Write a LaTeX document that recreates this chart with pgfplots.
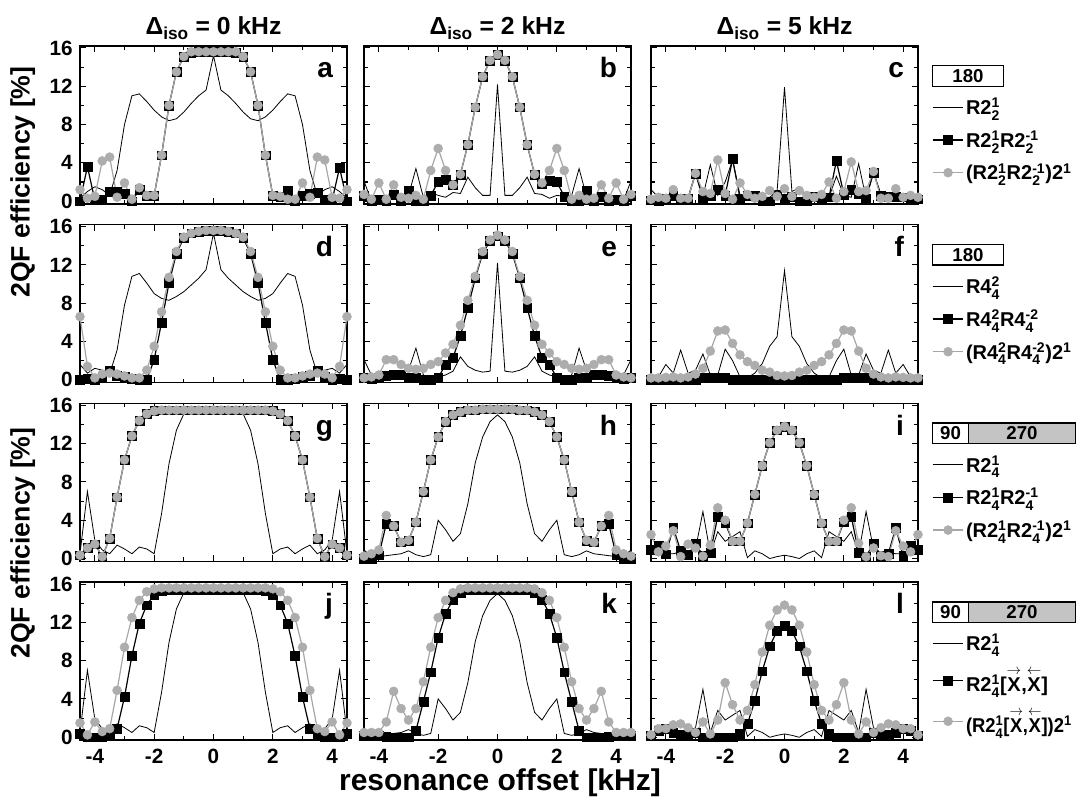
\documentclass[border=0pt]{standalone}
\usepackage{fontspec}
\setmainfont{Liberation Sans}
\usepackage{amsmath}
\usepackage{graphicx}
\usepackage{pgfplots}
\usepackage{pgfplotstable}
\pgfplotsset{compat=1.18}
\definecolor{ptgray}{HTML}{ADADAD}
\definecolor{lngray}{HTML}{A6A6A6}
\definecolor{boxgray}{HTML}{C4C4C4}

\newcommand{\su}[2]{\ensuremath{{}_{\text{#1}}^{\text{#2}}}}
\newcommand{\ax}[1]{\ensuremath{\overset{#1}{\text{X}}}}
\newcommand{\tickfont}{\fontsize{15.5}{15.5}\selectfont\bfseries}
\newcommand{\legfont}{\fontsize{15}{15}\selectfont\bfseries}

% one table per panel: offset [kHz], R (thin line), squares, circles
\pgfplotstableread{
x L S C
-4.5 0.3 0.0 1.2
-4.25 1.0 3.6 0.3
-4 1.5 0.1 0.5
-3.75 1.2 0.2 4.2
-3.5 0.6 1.0 4.6
-3.25 3.2 1.0 0.4
-3 8.0 0.8 1.9
-2.75 11.0 0.0 0.2
-2.5 11.2 1.2 1.4
-2.25 10.4 0.6 0.6
-2 9.5 0.6 0.6
-1.75 8.8 4.8 4.8
-1.5 8.4 10.0 10.0
-1.25 8.6 13.5 13.5
-1 9.3 15.1 15.1
-0.75 10.2 15.5 15.6
-0.5 11.0 15.6 15.6
-0.25 11.6 15.6 15.6
0 15.2 15.6 15.6
0.25 11.6 15.6 15.6
0.5 11.0 15.6 15.6
0.75 10.2 15.5 15.6
1 9.3 15.1 15.1
1.25 8.6 13.5 13.5
1.5 8.4 10.0 10.0
1.75 8.8 4.8 4.8
2 9.5 0.6 0.6
2.25 10.4 0.5 0.5
2.5 11.2 1.1 0.2
2.75 11.0 0.0 0.2
3 8.0 0.6 1.9
3.25 3.2 0.8 0.4
3.5 0.6 0.9 4.6
3.75 1.2 0.2 4.3
4 1.5 0.1 0.4
4.25 1.0 3.5 0.3
4.5 0.3 0.0 1.2
}\dA
\pgfplotstableread{
x L S C
-4.5 2.1 0.6 0.7
-4.25 0.0 0.0 0.2
-4 0.3 0.2 1.9
-3.75 0.2 0.0 0.2
-3.5 0.3 0.7 1.7
-3.25 0.3 0.0 0.4
-3 0.6 1.1 0.3
-2.75 3.4 0.0 0.6
-2.5 0.4 0.0 0.2
-2.25 0.9 0.6 3.2
-2 0.6 2.0 5.5
-1.75 0.4 2.2 3.2
-1.5 0.9 1.7 1.7
-1.25 0.8 2.8 2.8
-1 2.5 5.9 5.9
-0.75 1.4 9.8 9.8
-0.5 0.6 13.0 13.0
-0.25 0.6 14.7 14.7
0 12.2 15.3 15.3
0.25 0.6 14.7 14.7
0.5 0.6 13.0 13.0
0.75 1.4 9.8 9.8
1 2.5 5.9 5.9
1.25 0.8 2.8 2.8
1.5 0.7 1.8 1.9
1.75 0.3 2.1 3.2
2 0.6 2.0 5.5
2.25 0.5 0.5 3.2
2.5 0.6 0.0 0.2
2.75 3.4 0.0 0.6
3 0.5 1.1 0.2
3.25 0.3 0.0 0.3
3.5 0.3 0.5 1.7
3.75 0.2 0.0 0.3
4 0.3 0.2 1.9
4.25 0.1 0.0 0.2
4.5 2.1 0.6 0.7
}\dB
\pgfplotstableread{
x L S C
-4.5 1.2 0.1 0.2
-4.25 0.4 0.0 0.4
-4 0.3 0.3 0.3
-3.75 0.3 0.6 1.2
-3.5 0.3 0.3 0.3
-3.25 0.4 0.3 0.3
-3 2.9 2.9 2.9
-2.75 0.5 0.3 1.0
-2.5 3.8 0.6 0.8
-2.25 0.6 1.2 4.3
-2 2.0 0.6 0.8
-1.75 4.3 4.4 0.2
-1.5 0.6 0.3 1.9
-1.25 0.7 0.6 0.7
-1 0.4 0.6 0.3
-0.75 0.4 0.0 0.5
-0.5 0.4 0.0 1.1
-0.25 1.0 0.7 0.5
0 11.9 0.3 1.3
0.25 1.0 0.5 0.5
0.5 1.4 0.0 1.1
0.75 0.5 0.0 0.6
1 0.5 0.5 0.4
1.25 0.3 0.1 0.7
1.5 0.4 0.4 2.0
1.75 2.6 4.2 0.3
2 0.6 0.7 1.0
2.25 0.4 1.2 4.1
2.5 3.9 0.8 1.0
2.75 0.3 0.3 1.1
3 3.0 3.0 3.1
3.25 0.7 0.6 0.3
3.5 0.7 0.5 0.3
3.75 0.6 0.5 1.3
4 0.7 0.4 0.4
4.25 0.4 0.2 0.6
4.5 0.5 0.2 0.4
}\dC
\pgfplotstableread{
x L S C
-4.5 1.6 0.0 6.6
-4.25 0.7 0.1 1.4
-4 1.2 0.0 0.2
-3.75 1.0 0.3 0.6
-3.5 0.6 1.0 0.7
-3.25 3.1 0.4 0.6
-3 7.8 0.3 0.4
-2.75 10.8 0.1 0.2
-2.5 11.1 0.0 0.2
-2.25 10.1 0.0 1.0
-2 9.0 2.1 3.5
-1.75 8.5 6.0 7.1
-1.5 8.3 10.1 10.7
-1.25 8.7 13.2 13.4
-1 9.2 14.8 14.9
-0.75 9.9 15.3 15.3
-0.5 10.6 15.5 15.5
-0.25 11.5 15.6 15.6
0 15.3 15.6 15.6
0.25 11.5 15.6 15.6
0.5 10.6 15.5 15.5
0.75 9.9 15.3 15.3
1 9.2 14.8 14.9
1.25 8.7 13.2 13.4
1.5 8.3 10.1 10.7
1.75 8.5 6.0 7.1
2 9.0 2.1 3.5
2.25 10.1 0.0 1.0
2.5 11.1 0.0 0.2
2.75 10.8 0.1 0.2
3 7.8 0.3 0.4
3.25 3.1 0.4 0.6
3.5 0.6 1.0 0.7
3.75 1.0 0.3 0.6
4 1.2 0.0 0.2
4.25 0.7 0.1 1.4
4.5 1.6 0.0 6.6
}\dD
\pgfplotstableread{
x L S C
-4.5 2.1 0.2 0.2
-4.25 0.5 0.1 0.3
-4 0.3 0.2 0.5
-3.75 0.5 0.4 2.1
-3.5 0.5 0.5 2.1
-3.25 0.7 0.5 1.6
-3 1.0 0.2 1.2
-2.75 3.3 0.2 1.1
-2.5 0.5 0.0 1.2
-2.25 0.2 0.0 1.6
-2 0.3 0.2 1.9
-1.75 0.5 1.6 2.8
-1.5 0.9 2.3 3.7
-1.25 2.4 4.6 5.7
-1 1.4 7.5 8.3
-0.75 1.0 10.6 10.8
-0.5 0.8 13.2 13.4
-0.25 0.9 14.5 14.6
0 12.2 15.0 15.1
0.25 0.9 14.5 14.6
0.5 0.8 13.2 13.4
0.75 1.0 10.6 10.8
1 1.4 7.5 8.3
1.25 2.4 4.6 5.7
1.5 0.9 2.3 3.7
1.75 0.5 1.6 2.8
2 0.3 0.2 1.9
2.25 0.2 0.0 1.6
2.5 0.5 0.0 1.2
2.75 3.3 0.2 1.1
3 1.0 0.2 1.2
3.25 0.7 0.5 1.6
3.5 0.5 0.5 2.1
3.75 0.5 0.4 2.1
4 0.3 0.2 0.5
4.25 0.5 0.1 0.3
4.5 2.1 0.2 0.2
}\dE
\pgfplotstableread{
x L S C
-4.5 0.6 0.0 0.2
-4.25 0.3 0.0 0.2
-4 1.6 0.0 0.25
-3.75 0.7 0.0 0.3
-3.5 3.1 0.0 0.2
-3.25 0.7 0.0 0.3
-3 1.0 0.0 0.6
-2.75 2.7 0.25 1.2
-2.5 0.5 0.25 3.0
-2.25 0.5 0.25 5.1
-2 3.2 0.25 5.2
-1.75 2.0 0.0 3.8
-1.5 0.3 0.0 2.6
-1.25 0.2 0.0 1.9
-1 0.7 0.0 1.5
-0.75 1.7 0.0 1.0
-0.5 3.5 0.0 0.8
-0.25 4.5 0.0 0.45
0 11.4 0.0 0.4
0.25 4.5 0.0 0.45
0.5 3.5 0.0 0.8
0.75 1.7 0.0 1.0
1 0.7 0.0 1.5
1.25 0.2 0.0 1.9
1.5 0.3 0.0 2.6
1.75 2.0 0.0 3.8
2 3.2 0.25 5.2
2.25 0.5 0.25 5.1
2.5 0.5 0.25 3.0
2.75 2.7 0.25 1.2
3 1.0 0.0 0.6
3.25 0.7 0.0 0.3
3.5 3.1 0.0 0.2
3.75 0.7 0.0 0.3
4 1.6 0.0 0.25
4.25 0.3 0.0 0.2
4.5 0.6 0.0 0.2
}\dF
\pgfplotstableread{
x L S C
-4.5 0.5 0.35 0.35
-4.25 7.0 1.1 1.1
-4 1.9 1.5 1.5
-3.75 0.9 0.2 0.2
-3.5 0.5 2.1 2.1
-3.25 1.4 6.4 6.4
-3 1.0 10.3 10.3
-2.75 0.5 12.8 12.8
-2.5 1.2 14.4 14.4
-2.25 1.0 15.1 15.1
-2 0.5 15.4 15.4
-1.75 4.7 15.5 15.5
-1.5 9.9 15.5 15.5
-1.25 13.4 15.5 15.5
-1 15.1 15.5 15.5
-0.75 15.3 15.5 15.5
-0.5 15.3 15.5 15.5
-0.25 15.3 15.5 15.5
0 15.3 15.5 15.5
0.25 15.3 15.5 15.5
0.5 15.3 15.5 15.5
0.75 15.3 15.5 15.5
1 15.1 15.5 15.5
1.25 13.4 15.5 15.5
1.5 9.9 15.5 15.5
1.75 4.7 15.5 15.5
2 0.5 15.4 15.4
2.25 1.0 15.1 15.1
2.5 1.2 14.4 14.4
2.75 0.5 12.8 12.8
3 1.0 10.3 10.3
3.25 1.4 6.4 6.4
3.5 0.5 2.1 2.1
3.75 0.9 0.2 0.2
4 1.9 1.5 1.5
4.25 7.0 1.1 1.1
4.5 0.5 0.35 0.35
}\dG
\pgfplotstableread{
x L S C
-4.5 0.9 0.0 0.25
-4.25 0.2 0.0 0.5
-4 0.2 0.35 0.9
-3.75 0.3 3.6 4.5
-3.5 0.4 3.4 3.4
-3.25 0.5 1.7 1.7
-3 0.8 1.9 1.9
-2.75 0.4 3.8 3.8
-2.5 0.2 7.0 7.0
-2.25 0.4 10.3 10.3
-2 4.0 12.7 12.7
-1.75 3.0 14.3 14.3
-1.5 1.8 15.0 15.0
-1.25 2.6 15.3 15.3
-1 5.7 15.5 15.5
-0.75 10.0 15.5 15.5
-0.5 12.7 15.6 15.6
-0.25 14.3 15.6 15.6
0 15.0 15.6 15.6
0.25 14.3 15.6 15.6
0.5 12.7 15.6 15.6
0.75 10.0 15.5 15.5
1 5.7 15.5 15.5
1.25 2.6 15.3 15.3
1.5 1.8 15.0 15.0
1.75 3.0 14.3 14.3
2 4.0 12.7 12.7
2.25 0.4 10.3 10.3
2.5 0.2 7.0 7.0
2.75 0.4 3.8 3.8
3 0.8 1.9 1.9
3.25 0.5 1.7 1.7
3.5 0.4 3.4 3.4
3.75 0.3 3.6 4.5
4 0.2 0.35 0.9
4.25 0.2 0.0 0.5
4.5 0.9 0.0 0.25
}\dH
\pgfplotstableread{
x L S C
-4.5 0.5 0.9 2.5
-4.25 0.35 1.4 0.7
-4 0.5 0.45 1.3
-3.75 0.5 3.2 2.9
-3.5 0.7 0.8 0.2
-3.25 0.6 0.4 1.5
-3 1.0 1.6 1.1
-2.75 4.9 0.3 0.25
-2.5 0.5 0.6 1.4
-2.25 2.8 4.4 5.3
-2 1.8 3.7 4.0
-1.75 2.3 1.8 1.8
-1.5 2.8 1.8 1.8
-1.25 0.1 3.7 3.7
-1 0.8 6.7 6.7
-0.75 0.5 9.7 9.7
-0.5 0.0 12.1 12.1
-0.25 0.2 13.4 13.4
0 0.35 13.8 13.8
0.25 0.2 13.4 13.4
0.5 0.0 12.1 12.1
0.75 0.5 9.7 9.7
1 0.8 6.7 6.7
1.25 0.1 3.7 3.7
1.5 2.8 1.8 1.8
1.75 2.3 1.8 1.8
2 1.8 3.8 4.0
2.25 2.8 4.4 5.3
2.5 0.5 0.6 1.6
2.75 4.9 0.2 0.2
3 1.0 1.6 1.1
3.25 0.6 0.3 0.3
3.5 0.7 0.5 0.2
3.75 0.5 3.2 2.9
4 0.5 0.3 1.3
4.25 0.35 1.4 0.7
4.5 0.5 0.9 2.5
}\dI
\pgfplotstableread{
x L S C
-4.5 0.5 0.35 1.5
-4.25 7.0 0.0 0.25
-4 1.9 0.0 1.6
-3.75 0.9 0.0 0.6
-3.5 0.5 0.3 0.9
-3.25 1.4 0.9 4.9
-3 1.0 4.2 9.4
-2.75 0.5 8.5 12.5
-2.5 1.2 11.9 14.3
-2.25 1.0 13.8 15.2
-2 0.5 14.9 15.5
-1.75 4.7 15.3 15.6
-1.5 9.9 15.4 15.6
-1.25 13.4 15.4 15.6
-1 15.1 15.4 15.6
-0.75 15.3 15.4 15.6
-0.5 15.3 15.4 15.6
-0.25 15.3 15.4 15.6
0 15.3 15.4 15.6
0.25 15.3 15.4 15.6
0.5 15.3 15.4 15.6
0.75 15.3 15.4 15.6
1 15.1 15.4 15.6
1.25 13.4 15.4 15.6
1.5 9.9 15.4 15.6
1.75 4.7 15.3 15.6
2 0.5 14.9 15.5
2.25 1.0 13.8 15.2
2.5 1.2 11.9 14.3
2.75 0.5 8.5 12.5
3 1.0 4.2 9.4
3.25 1.4 0.9 4.9
3.5 0.5 0.3 0.9
3.75 0.9 0.0 0.6
4 1.9 0.0 1.6
4.25 7.0 0.0 0.25
4.5 0.5 0.35 1.5
}\dJ
\pgfplotstableread{
x L S C
-4.5 0.9 0.2 0.5
-4.25 0.2 0.2 0.5
-4 0.2 0.2 0.5
-3.75 0.3 0.1 1.6
-3.5 0.4 0.0 4.8
-3.25 0.5 0.0 3.0
-3 0.8 0.0 1.8
-2.75 0.4 0.7 3.0
-2.5 0.2 3.7 5.8
-2.25 0.4 6.8 9.4
-2 4.0 10.4 12.5
-1.75 3.0 12.9 14.3
-1.5 1.8 14.4 15.1
-1.25 2.6 15.1 15.5
-1 5.7 15.4 15.6
-0.75 10.0 15.4 15.6
-0.5 12.7 15.4 15.6
-0.25 14.3 15.4 15.6
0 15.0 15.4 15.6
0.25 14.3 15.4 15.6
0.5 12.7 15.4 15.6
0.75 10.0 15.4 15.6
1 5.7 15.4 15.6
1.25 2.6 15.1 15.5
1.5 1.8 14.4 15.1
1.75 3.0 12.9 14.3
2 4.0 10.4 12.5
2.25 0.4 6.8 9.4
2.5 0.2 3.7 5.8
2.75 0.4 0.7 3.0
3 0.8 0.0 1.8
3.25 0.5 0.0 3.0
3.5 0.4 0.0 4.8
3.75 0.3 0.1 1.6
4 0.2 0.2 0.5
4.25 0.2 0.2 0.5
4.5 0.9 0.2 0.5
}\dK
\pgfplotstableread{
x L S C
-4.5 0.5 0.2 0.25
-4.25 0.35 0.7 0.9
-4 0.5 0.9 0.9
-3.75 0.5 0.5 1.3
-3.5 0.7 0.3 1.4
-3.25 0.6 0.3 1.0
-3 1.0 0.5 0.5
-2.75 5.0 0.0 1.6
-2.5 0.5 0.0 0.35
-2.25 2.8 0.0 1.8
-2 1.8 0.0 5.7
-1.75 2.3 0.0 3.4
-1.5 2.8 0.35 1.8
-1.25 0.1 1.4 2.8
-1 0.8 3.8 5.5
-0.75 0.5 6.9 8.9
-0.5 0.0 9.5 11.7
-0.25 0.2 11.1 13.3
0 0.35 11.65 13.8
0.25 0.2 11.1 13.3
0.5 0.0 9.5 11.7
0.75 0.5 6.9 8.9
1 0.8 3.8 5.5
1.25 0.1 1.4 2.8
1.5 2.8 0.35 1.8
1.75 2.3 0.0 3.4
2 1.8 0.0 5.7
2.25 2.8 0.0 1.8
2.5 0.5 0.0 0.35
2.75 5.0 0.0 1.6
3 1.0 0.5 0.5
3.25 0.6 0.3 1.0
3.5 0.7 0.3 1.4
3.75 0.5 0.5 1.3
4 0.5 0.9 0.9
4.25 0.35 0.7 0.9
4.5 0.5 0.2 0.25
}\dL

\pgfplotsset{
  panel/.style={
    scale only axis, width=200.25pt, height=118.5pt, anchor=north west,
    xmin=-4.5, xmax=4.5, ymin=-0.3, ymax=16.2,
    xtick={-4,-2,0,2,4}, minor xtick={-3,-1,1,3},
    ytick={0,4,8,12,16}, minor ytick={2,6,10,14},
    xticklabels={}, yticklabels={},
    tick align=inside, major tick length=4.5pt, minor tick length=3pt,
    every tick/.style={black, line width=0.8pt},
    axis line style={black, line width=1.1pt},
    ticklabel style={font=\tickfont},
    xticklabel style={yshift=-3pt}, yticklabel style={xshift=-2pt},
    clip=false,
  },
  leftcol/.style={yticklabels={0,4,8,12,16}},
  botrow/.style={xticklabels={-4,-2,0,2,4}},
  rightcol/.style={
    legend style={at={(rel axis cs:1.052,0.684)}, anchor=north west, draw=none, fill=none,
      inner sep=0pt, row sep=7.5pt, font=\legfont, cells={anchor=west},
      nodes={inner sep=1.5pt}},
  },
  legend image code/.code={\draw[mark repeat=2,mark phase=2,#1] plot coordinates {(0pt,0pt) (11.5pt,0pt) (23pt,0pt)};},
  serL/.style={black, line width=0.6pt, mark=none},
  serS/.style={black, line width=0.9pt, mark=square*, mark size=3.3pt,
    mark options={fill=black, draw=black, line width=0.3pt}},
  serC/.style={lngray, line width=0.9pt, mark=*, mark size=3.4pt,
    mark options={fill=ptgray, draw=ptgray, line width=0.3pt}},
}
\tikzset{
  letter/.style={anchor=base east, font=\fontsize{21}{21}\selectfont\bfseries},
  onebox/.style={draw, line width=1.1pt, minimum height=15.5pt, inner sep=0pt,
    anchor=west, font=\fontsize{14}{14}\selectfont\bfseries},
}

\begin{document}
\begin{tikzpicture}
% row 1
\begin{axis}[panel, leftcol, at={(60pt,-34.5pt)}]
\addplot[serL] table[x=x,y=L]{\dA};
\addplot[serS] table[x=x,y=S]{\dA};
\addplot[serC] table[x=x,y=C]{\dA};
\node[letter] at (rel axis cs:0.965,0.80) {a};
\end{axis}
\begin{axis}[panel, at={(273pt,-34.5pt)}]
\addplot[serL] table[x=x,y=L]{\dB};
\addplot[serS] table[x=x,y=S]{\dB};
\addplot[serC] table[x=x,y=C]{\dB};
\node[letter] at (rel axis cs:0.965,0.80) {b};
\end{axis}
\begin{axis}[panel, rightcol, at={(488.25pt,-34.5pt)}]
\addplot[serL] table[x=x,y=L]{\dC};
\addlegendentry{R2\su{2}{1}}
\addplot[serS] table[x=x,y=S]{\dC};
\addlegendentry{R2\su{2}{1}R2\su{2}{-1}}
\addplot[serC] table[x=x,y=C]{\dC};
\addlegendentry{(R2\su{2}{1}R2\su{2}{-1})2\textsuperscript{1}}
\node[letter] at (rel axis cs:0.965,0.80) {c};
\node[onebox, minimum width=53pt] at (rel axis cs:1.052,0.81) {180};
\end{axis}
% row 2
\begin{axis}[panel, leftcol, at={(60pt,-168.5pt)}]
\addplot[serL] table[x=x,y=L]{\dD};
\addplot[serS] table[x=x,y=S]{\dD};
\addplot[serC] table[x=x,y=C]{\dD};
\node[letter] at (rel axis cs:0.965,0.80) {d};
\end{axis}
\begin{axis}[panel, at={(273pt,-168.5pt)}]
\addplot[serL] table[x=x,y=L]{\dE};
\addplot[serS] table[x=x,y=S]{\dE};
\addplot[serC] table[x=x,y=C]{\dE};
\node[letter] at (rel axis cs:0.965,0.80) {e};
\end{axis}
\begin{axis}[panel, rightcol, at={(488.25pt,-168.5pt)}]
\addplot[serL] table[x=x,y=L]{\dF};
\addlegendentry{R4\su{4}{2}}
\addplot[serS] table[x=x,y=S]{\dF};
\addlegendentry{R4\su{4}{2}R4\su{4}{-2}}
\addplot[serC] table[x=x,y=C]{\dF};
\addlegendentry{(R4\su{4}{2}R4\su{4}{-2})2\textsuperscript{1}}
\node[letter] at (rel axis cs:0.965,0.80) {f};
\node[onebox, minimum width=53pt] at (rel axis cs:1.052,0.81) {180};
\end{axis}
% row 3
\begin{axis}[panel, leftcol, at={(60pt,-302.55pt)}]
\addplot[serL] table[x=x,y=L]{\dG};
\addplot[serS] table[x=x,y=S]{\dG};
\addplot[serC] table[x=x,y=C]{\dG};
\node[letter] at (rel axis cs:0.965,0.80) {g};
\end{axis}
\begin{axis}[panel, at={(273pt,-302.55pt)}]
\addplot[serL] table[x=x,y=L]{\dH};
\addplot[serS] table[x=x,y=S]{\dH};
\addplot[serC] table[x=x,y=C]{\dH};
\node[letter] at (rel axis cs:0.965,0.80) {h};
\end{axis}
\begin{axis}[panel, rightcol, at={(488.25pt,-302.55pt)}]
\addplot[serL] table[x=x,y=L]{\dI};
\addlegendentry{R2\su{4}{1}}
\addplot[serS] table[x=x,y=S]{\dI};
\addlegendentry{R2\su{4}{1}R2\su{4}{-1}}
\addplot[serC] table[x=x,y=C]{\dI};
\addlegendentry{(R2\su{4}{1}R2\su{4}{-1})2\textsuperscript{1}}
\node[letter] at (rel axis cs:0.965,0.80) {i};
\node[onebox, fill=boxgray, minimum width=80pt] at (rel axis cs:1.187,0.81) {270};
\node[onebox, fill=white, minimum width=27pt] at (rel axis cs:1.052,0.81) {90};
\end{axis}
% row 4
\begin{axis}[panel, leftcol, botrow, at={(60pt,-436.6pt)}]
\addplot[serL] table[x=x,y=L]{\dJ};
\addplot[serS] table[x=x,y=S]{\dJ};
\addplot[serC] table[x=x,y=C]{\dJ};
\node[letter] at (rel axis cs:0.965,0.80) {j};
\end{axis}
\begin{axis}[panel, botrow, at={(273pt,-436.6pt)}]
\addplot[serL] table[x=x,y=L]{\dK};
\addplot[serS] table[x=x,y=S]{\dK};
\addplot[serC] table[x=x,y=C]{\dK};
\node[letter] at (rel axis cs:0.965,0.80) {k};
\end{axis}
\begin{axis}[panel, botrow, rightcol, at={(488.25pt,-436.6pt)}]
\addplot[serL] table[x=x,y=L]{\dL};
\addlegendentry{R2\su{4}{1}}
\addplot[serS] table[x=x,y=S]{\dL};
\addlegendentry{R2\su{4}{1}[\ax{\rightarrow},\ax{\leftarrow}]}
\addplot[serC] table[x=x,y=C]{\dL};
\addlegendentry{\scalebox{0.92}[1]{(R2\su{4}{1}[\ax{\rightarrow},\ax{\leftarrow}])2\textsuperscript{1}}}
\node[letter] at (rel axis cs:0.965,0.80) {l};
\node[onebox, fill=boxgray, minimum width=80pt] at (rel axis cs:1.187,0.81) {270};
\node[onebox, fill=white, minimum width=27pt] at (rel axis cs:1.052,0.81) {90};
\end{axis}
% column titles and axis labels
\node[anchor=base, font=\fontsize{18.5}{18.5}\selectfont\bfseries] at (160.1pt,-26.25pt) {Δ\textsubscript{iso} = 0 kHz};
\node[anchor=base, font=\fontsize{18.5}{18.5}\selectfont\bfseries] at (373.1pt,-26.25pt) {Δ\textsubscript{iso} = 2 kHz};
\node[anchor=base, font=\fontsize{18.5}{18.5}\selectfont\bfseries] at (588.4pt,-26.25pt) {Δ\textsubscript{iso} = 5 kHz};
\node[rotate=90, font=\fontsize{20}{20}\selectfont\bfseries] at (17pt,-136.5pt) {2QF efficiency [\%]};
\node[rotate=90, font=\fontsize{20}{20}\selectfont\bfseries] at (17pt,-407.25pt) {2QF efficiency [\%]};
\node[anchor=base, font=\fontsize{22.5}{22.5}\selectfont\bfseries] at (375pt,-592.5pt) {resonance offset [kHz]};
\pgfresetboundingbox
\useasboundingbox (0pt,0pt) rectangle (808.5pt,-599.25pt);
\end{tikzpicture}
\end{document}
